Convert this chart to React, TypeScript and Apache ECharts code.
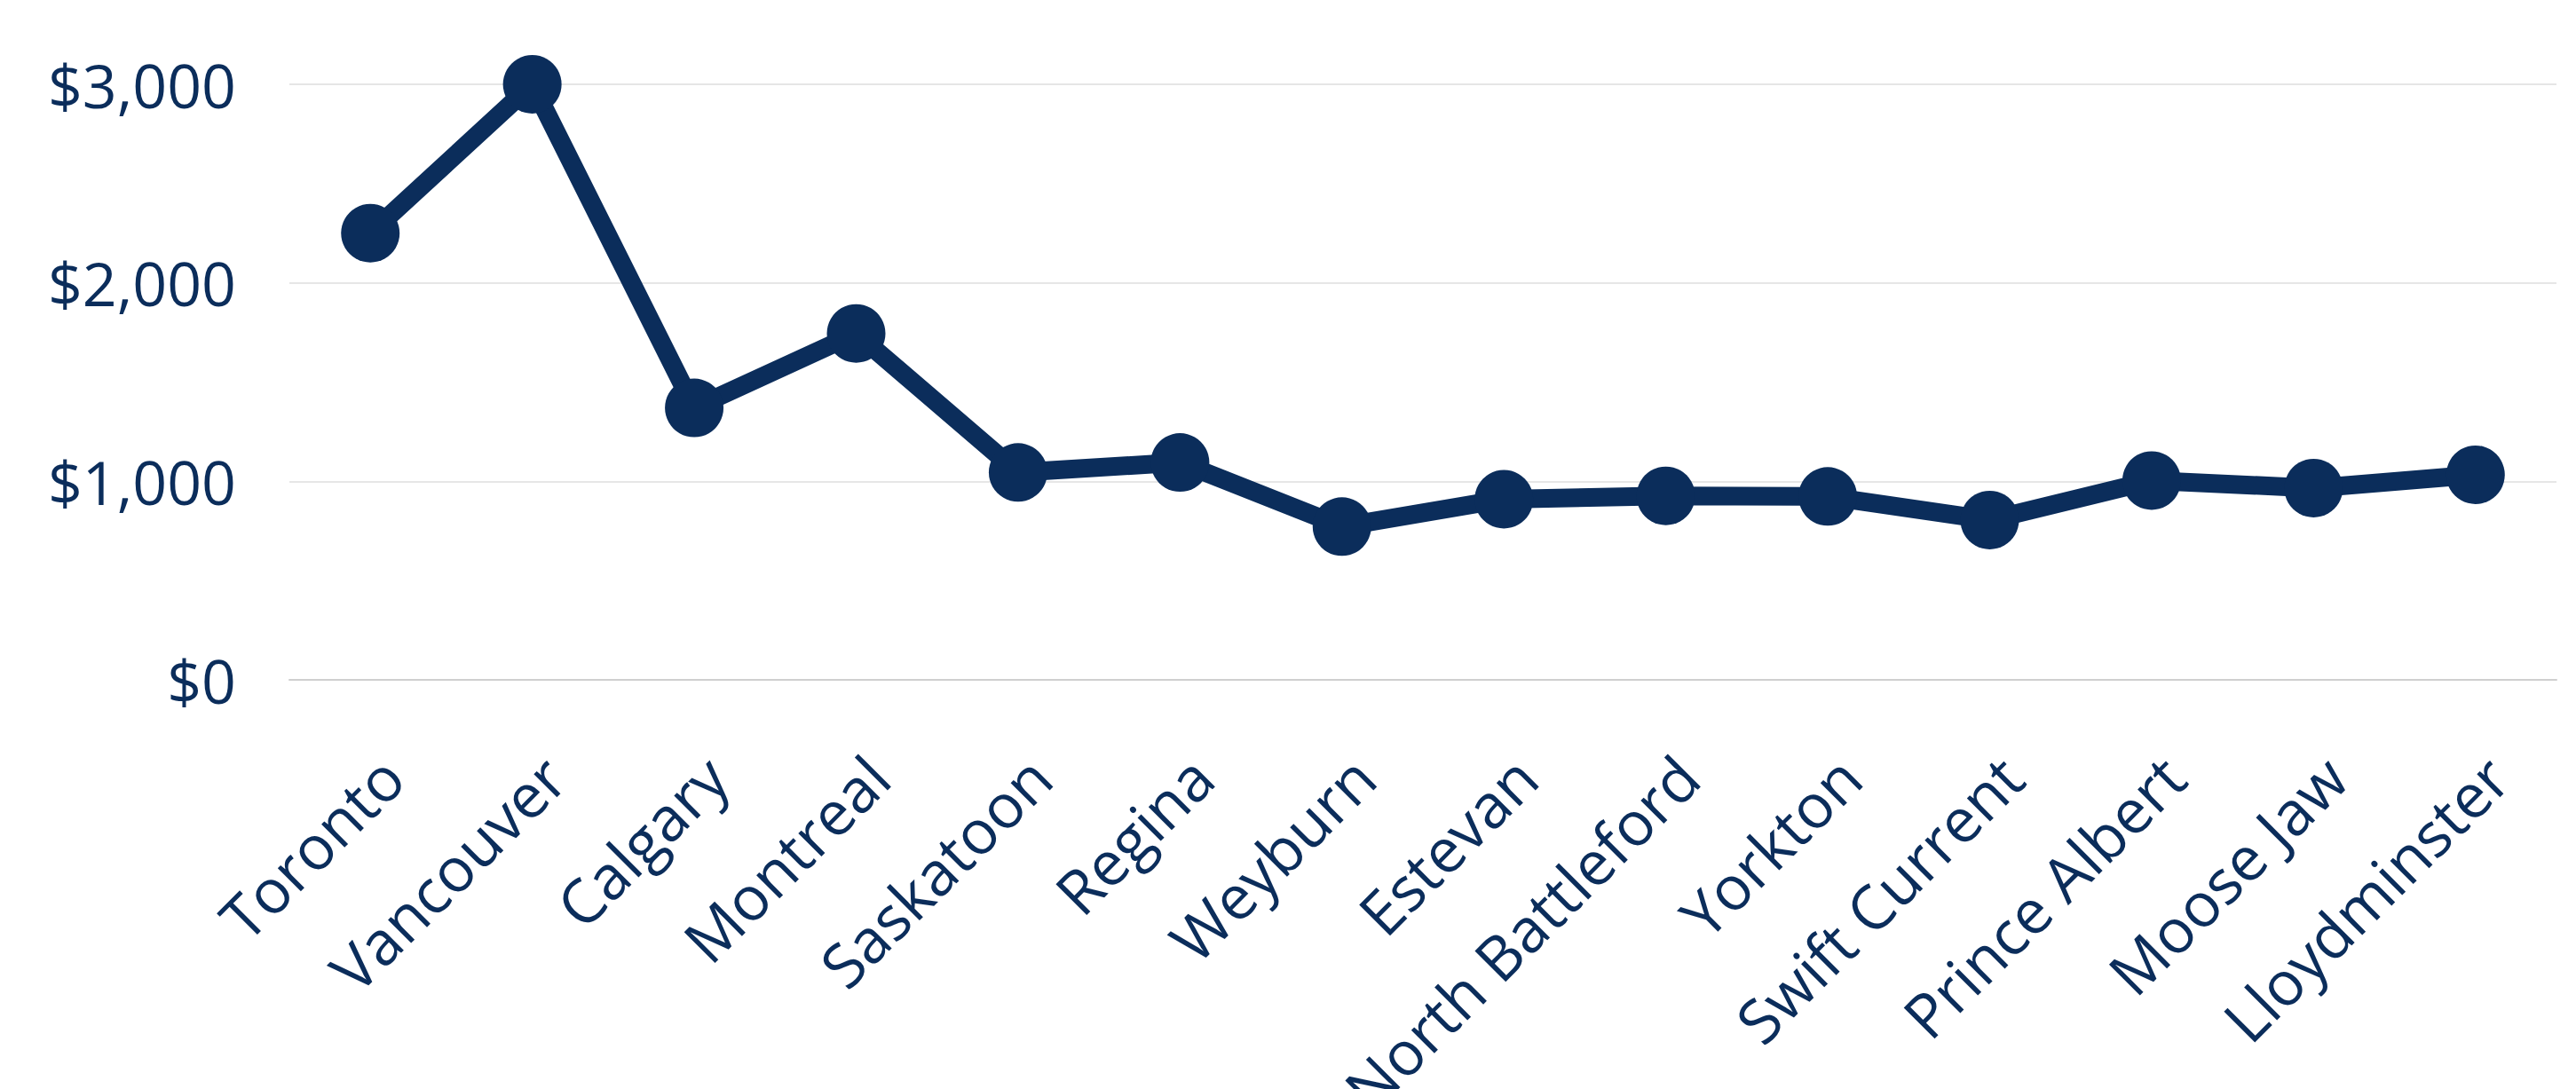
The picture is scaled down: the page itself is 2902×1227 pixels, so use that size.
import React, { useEffect, useRef } from "react";
import * as echarts from "echarts";

const cities = [
  "Toronto",
  "Vancouver",
  "Calgary",
  "Montreal",
  "Saskatoon",
  "Regina",
  "Weyburn",
  "Estevan",
  "North Battleford",
  "Yorkton",
  "Swift Current",
  "Prince Albert",
  "Moose Jaw",
  "Lloydminster",
];

const values = [2250, 3000, 1370, 1745, 1045, 1095, 772, 910, 927, 924, 805, 1004, 966, 1033];

const yTicks = [0, 1000, 2000, 3000];
const yTickLabels = ["$0", "$1,000", "$2,000", "$3,000"];

const NAVY = "#0b2d5b";
const FONT = "'Open Sans', 'Noto Sans', sans-serif";

export default function App() {
  const ref = useRef<HTMLDivElement>(null);
  useEffect(() => {
    if (!ref.current) return;
    const chart = echarts.init(ref.current, null, { renderer: "svg" });
    chart.setOption({
      animation: false,
      backgroundColor: "#ffffff",
      grid: {
        left: 326,
        right: 22,
        top: 95,
        bottom: 461,
        containLabel: false,
        outerBoundsMode: "none",
      },
      xAxis: {
        type: "category",
        data: cities,
        boundaryGap: true,
        axisLine: { show: true, lineStyle: { color: "#cfcfcf", width: 2 } },
        axisTick: { show: false },
        axisLabel: {
          rotate: 45,
          margin: 73,
          interval: 0,
          verticalAlign: "top",
          color: NAVY,
          fontFamily: FONT,
          fontSize: 69,
        },
      },
      yAxis: {
        type: "value",
        min: yTicks[0],
        max: yTicks[yTicks.length - 1],
        interval: 1000,
        axisLine: { show: false },
        axisTick: { show: false },
        splitLine: { show: true, lineStyle: { color: "#e6e6e6", width: 2 } },
        axisLabel: {
          margin: 60,
          color: NAVY,
          fontFamily: FONT,
          fontSize: 68,
          formatter: (v: number) => {
            const i = yTicks.indexOf(v);
            return i >= 0 ? yTickLabels[i] : "";
          },
        },
      },
      series: [
        {
          type: "line",
          data: values,
          clip: false,
          symbol: "circle",
          symbolSize: 66,
          lineStyle: { color: NAVY, width: 21 },
          itemStyle: { color: NAVY },
        },
      ],
    });
    return () => chart.dispose();
  }, []);
  return (
    <div
      ref={ref}
      style={{ position: "fixed", left: 0, top: 0, width: 2902, height: 1227 }}
    />
  );
}
